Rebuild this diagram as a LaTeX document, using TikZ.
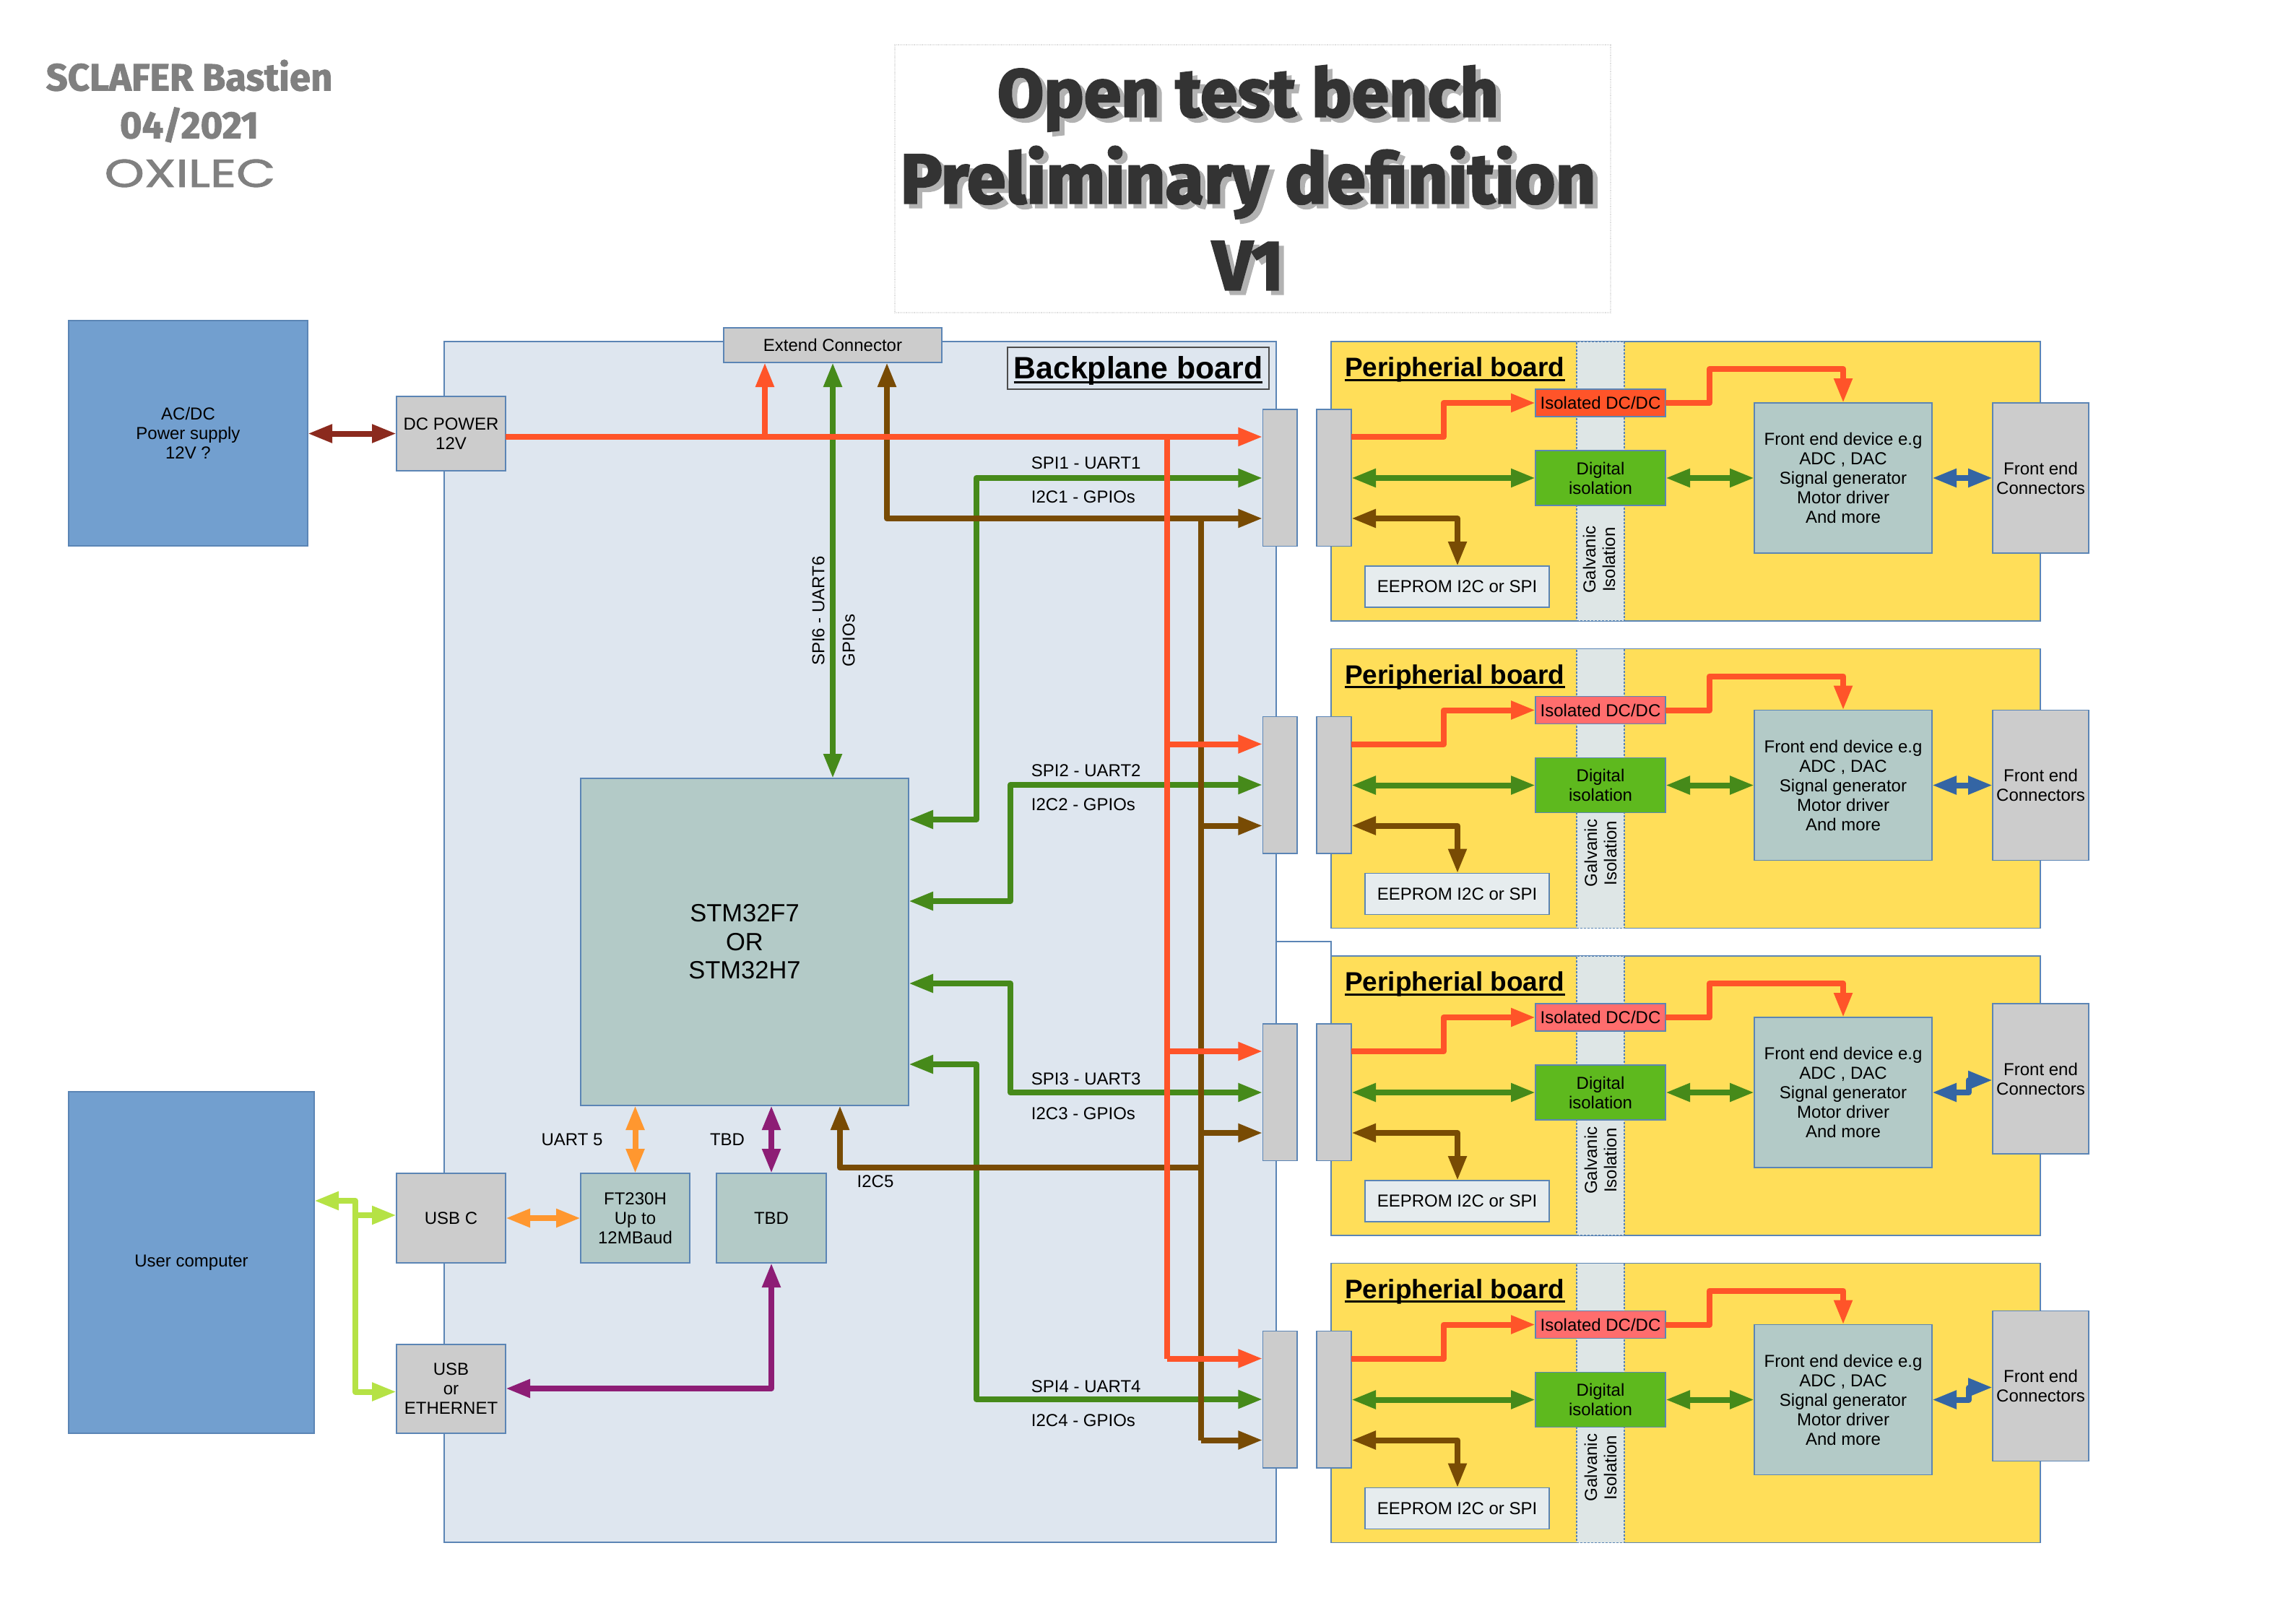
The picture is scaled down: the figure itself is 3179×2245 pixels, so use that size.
\documentclass[tikz,border=0pt]{standalone}
\usepackage{fontspec}
\setmainfont{Liberation Sans}
\newfontfamily\titlefont[BoldFeatures={FakeBold=2.6}]{Fira Sans}
\newfontfamily\authorfont[BoldFeatures={FakeBold=1.8}]{Fira Sans}
\newfontfamily\logofont[FakeBold=1.6]{Poppins}
\usetikzlibrary{arrows.meta}
\definecolor{bluebox}{HTML}{729FCF}
\definecolor{edgeblue}{HTML}{5B85B5}
\definecolor{backbg}{HTML}{DEE6EF}
\definecolor{grey}{HTML}{CCCCCC}
\definecolor{teal}{HTML}{B3CAC7}
\definecolor{yel}{HTML}{FFDE59}
\definecolor{digi}{HTML}{5EB91E}
\definecolor{isoA}{HTML}{FF5429}
\definecolor{isoB}{HTML}{FF6D6D}
\definecolor{strip}{HTML}{DEE6E6}
\definecolor{eep}{HTML}{E6ECEE}
\definecolor{cred}{HTML}{FF5429}
\definecolor{cgreen}{HTML}{468A1A}
\definecolor{cbrown}{HTML}{784B04}
\definecolor{cpurple}{HTML}{8D1D75}
\definecolor{corange}{HTML}{FF972F}
\definecolor{clime}{HTML}{B5E245}
\definecolor{cblue}{HTML}{3465A4}
\definecolor{cdark}{HTML}{8B2A1E}
\newcommand{\bx}[7][]{%
  \pgfmathsetmacro{\cxx}{(#3+#5)/2}\pgfmathsetmacro{\cyy}{(#4+#6)/2}%
  \pgfmathsetmacro{\wdd}{#5-#3}\pgfmathsetmacro{\htt}{#6-#4}%
  \node[boxbase,#1,minimum width=\wdd pt,minimum height=\htt pt] (#2) at (\cxx,\cyy) {#7};}
\newcommand{\ulx}[1]{\setbox0=\hbox{#1}\rlap{\rule[-6pt]{\wd0}{3pt}}\box0}
\newcommand{\shline}[1]{\rlap{\raisebox{-6pt}{\hspace{7pt}\textcolor{black!30}{#1}}}#1}
\tikzset{
  boxbase/.style={draw=edgeblue,line width=1.6pt,inner sep=0pt,outer sep=0pt,align=center,font=\fontsize{24}{27}\selectfont},
  wire/.style={line width=8pt,line join=round},
  both/.style={wire,{Triangle[length=34pt,width=24pt]}-{Triangle[length=34pt,width=24pt]}},
  fwd/.style={wire,-{Triangle[length=34pt,width=24pt]}},
  back/.style={wire,{Triangle[length=34pt,width=24pt]}-},
  lab/.style={font=\fontsize{24}{27}\selectfont,inner sep=0pt},
  head/.style={font=\fontsize{37}{40}\selectfont\bfseries,inner sep=0pt},
}
\begin{document}
\begin{tikzpicture}[x=1pt,y=-1pt]
\useasboundingbox (0,0) rectangle (3179,2245);
% header
\node[draw=black!12,densely dotted,line width=1.2pt,minimum width=991pt,minimum height=371pt,inner sep=0pt] (titlebox) at (1734.5,247.5) {};
\node[text=black!80,font=\titlefont\fontsize{97}{120}\selectfont\bfseries,align=center,inner sep=0pt] (title) at (1728,249) {{\fontsize{93}{120}\selectfont\shline{Open test bench}}\\\shline{Preliminary definition}\\\shline{V1}};
\node[text=black!50,font=\authorfont\fontsize{52.5}{66}\selectfont\bfseries,align=center,inner sep=0pt] (author) at (262,140) {SCLAFER Bastien\\04/2021};
\node[text=black!50,font=\logofont\fontsize{54}{54}\selectfont,inner sep=0pt,xscale=1.3] (logo) at (263,240) {OXILEC};
% left blocks
\bx[fill=bluebox]{acdc}{95}{444}{426}{756}{AC/DC\\Power supply\\12V ?}
\bx[fill=bluebox]{user}{95}{1512}{435}{1985}{User computer}
% backplane
\bx[fill=backbg]{back}{615}{473}{1767}{2136}{}
\draw[edgeblue,line width=1.6pt] (back.east |- 0,1304) -- (1843,1304) -- (1843,1323);
\bx[fill=grey]{ext}{1002}{454}{1304}{502}{Extend Connector}
\bx[fill=backbg,draw=black!70]{backlab}{1395}{481}{1757}{539}{}
\node[inner sep=0pt,anchor=base,font=\fontsize{42.8}{44}\selectfont\bfseries] (backlabt) at (1576,524.5) {\ulx{Backplane board}};
\bx[fill=grey]{dc}{549}{549}{700}{652}{DC POWER\\12V}
\bx[fill=grey]{usbc}{549}{1625}{700}{1749}{USB C}
\bx[fill=grey]{usbe}{549}{1862}{700}{1985}{USB\\or\\ETHERNET}
\bx[fill=teal]{ft}{804}{1625}{955}{1749}{FT230H\\Up to\\12MBaud}
\bx[fill=teal]{tbd}{992}{1625}{1144}{1749}{TBD}
\bx[fill=teal,font=\fontsize{34.5}{39.5}\selectfont]{stm}{804}{1078}{1258}{1531}{STM32F7\\OR\\STM32H7}
% peripheral boards
\foreach \i/\cy/\fcd/\gy/\gx/\isoc in {1/0/0/302/2214/isoA,2/425.5/0/283/2216/isoB,3/851/-19/283/2216/isoB,4/1276.5/-19/283/2216/isoB}{
\begin{scope}[yshift=-\cy pt]
\bx[fill=yel]{pb\i}{1843}{473}{2825}{860}{}
\bx[fill=strip,densely dashed,line width=1.2pt]{gal\i}{2183}{473}{2249}{860}{}
\node[lab,rotate=90,align=center] (galt\i) at (\gx,473+\gy) {Galvanic\\Isolation};
\node[head,anchor=base west] (pbt\i) at (1862,521.5) {\ulx{Peripherial board}};
\bx[fill=\isoc]{iso\i}{2126}{539}{2306}{577}{Isolated DC/DC}
\bx[fill=digi]{dig\i}{2126}{624}{2306}{700}{Digital\\isolation}
\bx[fill=teal]{fe\i}{2429}{558}{2675}{766}{Front end device e.g\\ADC , DAC\\Signal generator\\Motor driver\\And more}
\pgfmathsetmacro{\fa}{558+\fcd}\pgfmathsetmacro{\fb}{766+\fcd}
\bx[fill=grey]{fc\i}{2759}{\fa}{2892}{\fb}{Front end\\Connectors}
\bx[fill=eep]{ee\i}{1890}{784}{2145}{841}{EEPROM I2C or SPI}
\bx[fill=grey]{cr\i}{1823}{567}{1871}{756.5}{}
\bx[fill=grey]{cl\i}{1748.3}{567}{1796}{756.5}{}
\draw[fwd,cred] (cr\i.east |- 0,605) -- (1999,605) -- (1999,558) -- (iso\i.west);
\draw[fwd,cred] (iso\i.east) -- (2367,558) -- (2367,511) -- (2552,511) -- (fe\i.north -| 2552,0);
\draw[both,cgreen] (cr\i.east |- dig\i.west) -- (dig\i.west);
\draw[both,cgreen] (dig\i.east) -- (fe\i.west);
\draw[back,cbrown] (cr\i.east |- 0,718) -- (2018,718) -- (2018,750);
\draw[fwd,cbrown] (2018,718) -- (ee\i.north -| 2018,0);
\ifnum\i<3
\draw[both,cblue] (fe\i.east) -- (fc\i.west |- fe\i.east);
\else
\draw[both,cblue] (fe\i.east) -- (2726,662) -- (2726,645) -- (fc\i.west |- 0,645);
\fi
\end{scope}}
% green buses
\draw[both,cgreen] (ext.south -| 1153,0) -- (stm.north -| 1153,0);
\draw[both,cgreen] (stm.east |- 0,1135) -- (1351.7,1135) -- (1351.7,662) -- (cl1.west |- 0,662);
\draw[both,cgreen] (stm.east |- 0,1248) -- (1399,1248) -- (1399,1087) -- (cl2.west |- 0,1087);
\draw[both,cgreen] (stm.east |- 0,1362) -- (1399,1362) -- (1399,1513) -- (cl3.west |- 0,1513);
\draw[both,cgreen] (stm.east |- 0,1474) -- (1351.7,1474) -- (1351.7,1938) -- (cl4.west |- 0,1938);
% brown buses
\draw[wire,cbrown] (1663.3,718) -- (1663.3,1994.5);
\draw[both,cbrown] (ext.south -| 1228,0) -- (1228,718) -- (cl1.west |- 0,718);
\draw[fwd,cbrown] (1663.3,1143.5) -- (cl2.west |- 0,1143.5);
\draw[fwd,cbrown] (1663.3,1569) -- (cl3.west |- 0,1569);
\draw[fwd,cbrown] (1663.3,1994.5) -- (cl4.west |- 0,1994.5);
\draw[fwd,cbrown] (1663.3,1617) -- (1163,1617) -- (stm.south -| 1163,0);
% power rails
\draw[wire,cred] (1616,605) -- (1616,1882);
\draw[fwd,cred] (dc.east |- 0,605) -- (cl1.west |- 0,605);
\draw[fwd,cred] (1059,605) -- (ext.south -| 1059,0);
\draw[fwd,cred] (1616,1030.5) -- (cl2.west |- 0,1030.5);
\draw[fwd,cred] (1616,1456) -- (cl3.west |- 0,1456);
\draw[fwd,cred] (1616,1881.5) -- (cl4.west |- 0,1881.5);
% others
\draw[both,cdark] (acdc.east |- dc.west) -- (dc.west);
\draw[both,corange] (usbc.east |- 0,1687) -- (ft.west |- 0,1687);
\draw[both,corange] (stm.south -| ft.north) -- (ft.north);
\draw[both,cpurple] (stm.south -| tbd.north) -- (tbd.north);
\draw[both,cpurple] (tbd.south) -- (1068,1923) -- (usbe.east |- 0,1923);
\draw[both,clime] (user.east |- 0,1663) -- (492,1663) -- (492,1927.5) -- (usbe.west |- 0,1927.5);
\draw[fwd,clime] (492,1683) -- (usbc.west |- 0,1683);
% labels
\node[lab,anchor=west] (l1a) at (1427.7,641.7) {SPI1 - UART1};
\node[lab,anchor=west] (l1b) at (1427.7,688.3) {I2C1 - GPIOs};
\node[lab,anchor=west] (l2a) at (1427.7,1067) {SPI2 - UART2};
\node[lab,anchor=west] (l2b) at (1427.7,1114) {I2C2 - GPIOs};
\node[lab,anchor=west] (l3a) at (1427.7,1494.5) {SPI3 - UART3};
\node[lab,anchor=west] (l3b) at (1427.7,1542.5) {I2C3 - GPIOs};
\node[lab,anchor=west] (l4a) at (1427.7,1920.7) {SPI4 - UART4};
\node[lab,anchor=west] (l4b) at (1427.7,1967.3) {I2C4 - GPIOs};
\node[lab,rotate=90] (l6a) at (1133,846) {SPI6 - UART6};
\node[lab,rotate=90] (l6b) at (1175,887) {GPIOs};
\node[lab] (lu5) at (792,1578) {UART 5};
\node[lab] (ltb) at (1007,1578) {TBD};
\node[lab] (li5) at (1212,1636) {I2C5};
\end{tikzpicture}
\end{document}
